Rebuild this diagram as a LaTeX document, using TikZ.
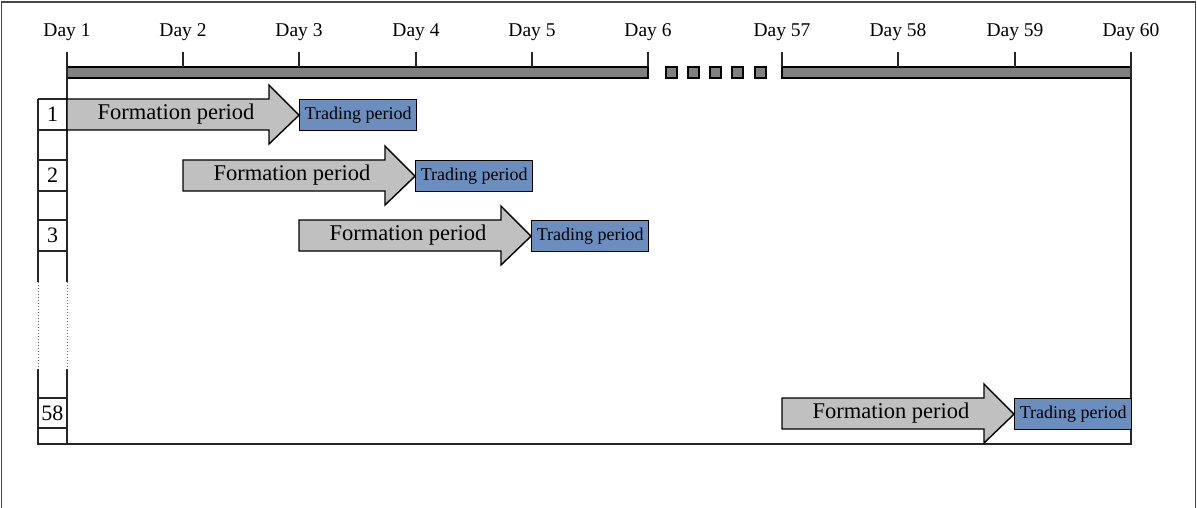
\documentclass[tikz,border=0pt]{standalone}
\usepackage{fontspec}
\setmainfont{Liberation Serif}
\definecolor{tradeblue}{RGB}{108,142,191}
\definecolor{formgray}{RGB}{192,192,192}
\definecolor{bargray}{RGB}{128,128,128}
\definecolor{framegray}{RGB}{70,70,70}
\begin{document}
\begin{tikzpicture}[x=1pt,y=-1pt,line join=miter,
  daylabel/.style={font=\fontsize{19.5}{21}\selectfont, anchor=base, inner sep=0pt},
  tradebox/.style={draw, line width=1.4pt, fill=tradeblue, font=\fontsize{18}{20}\selectfont,
     minimum width=117pt, minimum height=31pt, inner sep=0pt, anchor=north west},
  formarrow/.style={draw, line width=1.4pt, fill=formgray},
  formlabel/.style={font=\fontsize{22.5}{24}\selectfont, inner sep=0pt},
  rownum/.style={font=\fontsize{22}{24}\selectfont, inner sep=0pt},
  gridline/.style={line width=1.4pt, draw=black!85},
  dotline/.style={line width=1pt, draw=black!60, dotted},
  barbox/.style={draw, line width=1.4pt, fill=bargray},
  framebox/.style={line width=1.8pt, draw=framegray}]
\useasboundingbox (0,0) rectangle (1197,508);
% outer frame (open at the bottom)
\draw[framebox] (1.5,508) -- (1.5,2) -- (1195.5,2) -- (1195.5,508);
% timeline bars
\draw[barbox] (67,67) rectangle (648,78);
\draw[barbox] (782,67) rectangle (1131,78);
\foreach \dx in {666,688,710,732,755}
  \draw[barbox] (\dx,67) rectangle ({\dx+11},78);
% ticks and day labels
\foreach \tx/\lab in {67/Day 1,183/Day 2,299/Day 3,416/Day 4,532/Day 5,648/Day 6,782/Day 57,898/Day 58,1015/Day 59,1131/Day 60}{
  \draw[gridline] (\tx,52) -- (\tx,67);
  \node[daylabel] at (\tx,37) {\lab};
}
% main frame of rows
\draw[gridline] (67,67) -- (67,282);
\draw[gridline] (67,369) -- (67,444) -- (1131,444) -- (1131,67);
\draw[gridline] (38,99) -- (38,282);
\draw[gridline] (38,369) -- (38,444) -- (67,444);
\draw[dotline] (38,282) -- (38,369);
\draw[dotline] (67,282) -- (67,369);
\foreach \hy in {99,130,160,191,220,251,398,428}
  \draw[gridline] (38,\hy) -- (67,\hy);
% rows
\foreach \x/\y/\n in {67/99/1,183/160/2,299/220/3,782/398/58}{
  \node[tradebox] (t\n) at ({\x+232},\y) {Trading period};
  \draw[formarrow] (\x,\y) -- ({\x+202},\y) -- ({\x+202},{\y-14}) -- (t\n.west)
     -- ({\x+202},{\y+45}) -- ({\x+202},{\y+31}) -- (\x,{\y+31}) -- cycle;
  \node[formlabel] (f\n) at ({\x+109},{\y+15.5}) {Formation period};
  \node[rownum] (r\n) at (52.5,{\y+15.5}) {\n};
}
\end{tikzpicture}
\end{document}
